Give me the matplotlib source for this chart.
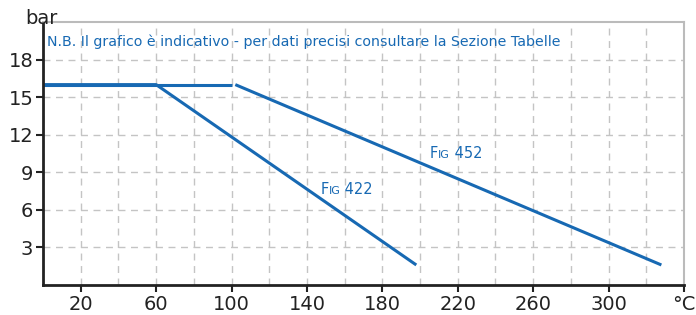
import matplotlib.pyplot as plt
from matplotlib.offsetbox import TextArea, HPacker, AnnotationBbox

# === Data ===
fig422_t = [0, 60, 198]
fig422_p = [16, 16, 1.6]
fig452_flat_t = [0, 100.5]
fig452_flat_p = [16, 16]
fig452_slope_t = [102, 328]
fig452_slope_p = [16, 1.6]

x_ticks = [20, 60, 100, 140, 180, 220, 260, 300, 340]
x_labels = ["20", "60", "100", "140", "180", "220", "260", "300", "°C"]
y_ticks = [3, 6, 9, 12, 15, 18]
note = "N.B. Il grafico è indicativo - per dati precisi consultare la Sezione Tabelle"

BLUE = "#1769b3"
GRID = "#c4c4c4"

fig = plt.figure(figsize=(6.96, 3.15), dpi=100)
ax = fig.add_axes([43 / 696, 30 / 315, 641 / 696, 263 / 315])

ax.plot(fig422_t, fig422_p, color=BLUE, lw=2.2, solid_capstyle="butt")
ax.plot(fig452_flat_t, fig452_flat_p, color=BLUE, lw=2.2, solid_capstyle="butt")
ax.plot(fig452_slope_t, fig452_slope_p, color=BLUE, lw=2.2, solid_capstyle="butt")

ax.set_xlim(0, 340)
ax.set_ylim(0, 21)

ax.xaxis.remove_overlapping_locs = False
ax.set_xticks(x_ticks)
ax.set_xticklabels(x_labels)
ax.set_xticks(range(0, 341, 20), minor=True)
ax.set_yticks(y_ticks)
ax.tick_params(axis="both", which="major", labelsize=14, length=5, width=1.5,
               colors="#222222", pad=2)
ax.tick_params(axis="x", which="minor", length=0)

ax.grid(True, axis="x", which="minor", color=GRID, ls=(0, (5, 4)), lw=1)
ax.grid(True, axis="y", which="major", color=GRID, ls=(0, (5, 4)), lw=1)
ax.set_axisbelow(True)

for side in ("left", "bottom"):
    ax.spines[side].set_color("#222222")
    ax.spines[side].set_linewidth(2)
for side in ("top", "right"):
    ax.spines[side].set_color("#bbbbbb")
    ax.spines[side].set_linewidth(1.5)

ax.text(2, 19.4, note, color=BLUE, fontsize=10.2, va="center", ha="left")
fig.text(25 / 696, 1 - 18 / 315, "bar", fontsize=14, color="#222222", va="center")


def fig_label(num, x, y):
    parts = [TextArea("F", textprops=dict(color=BLUE, fontsize=10.5)),
             TextArea("IG", textprops=dict(color=BLUE, fontsize=8)),
             TextArea(" " + num, textprops=dict(color=BLUE, fontsize=10.5))]
    box = HPacker(children=parts, align="baseline", pad=0, sep=0)
    ab = AnnotationBbox(box, (x, y), box_alignment=(0, 0), frameon=False,
                        pad=0, xycoords="data")
    ax.add_artist(ab)


fig_label("452", 205, 9.9)
fig_label("422", 147, 7.0)

plt.savefig("out.png", dpi=100)
